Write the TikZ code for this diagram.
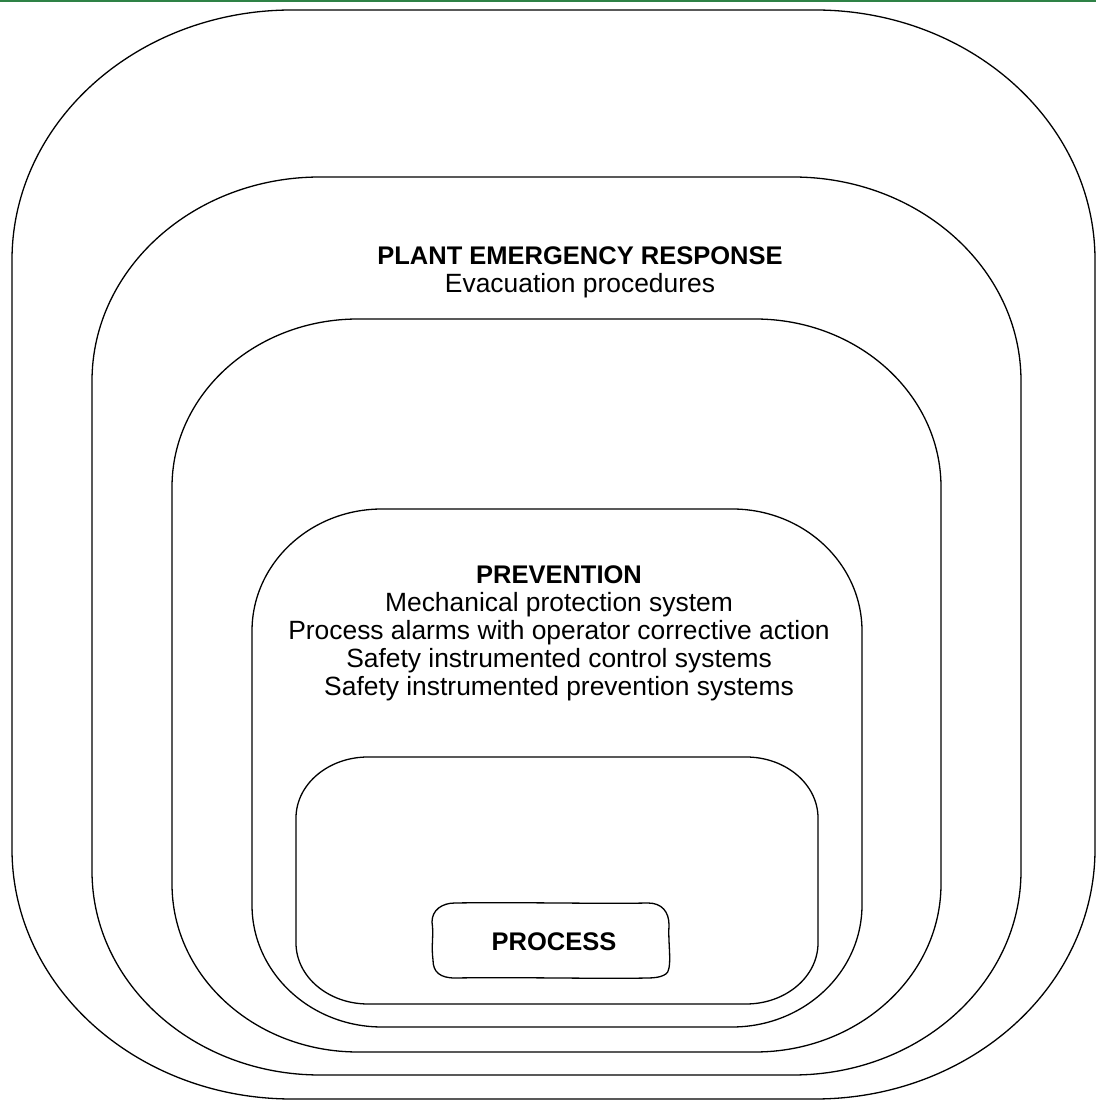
\documentclass[tikz,border=0pt]{standalone}
\usepackage{fontspec}
\setmainfont{Liberation Sans}
\definecolor{topgreen}{RGB}{46,130,70}
\newcommand{\ovalshape}[6]{% L, T(px), R, B(px), rx, ry
  \pgfmathsetmacro{\oT}{1100-#2}\pgfmathsetmacro{\oB}{1100-#4}%
  \draw[shell] (#1,\oB+#6) -- (#1,\oT-#6)
    arc[start angle=180,end angle=90,x radius=#5,y radius=#6]
    -- (#3-#5,\oT)
    arc[start angle=90,end angle=0,x radius=#5,y radius=#6]
    -- (#3,\oB+#6)
    arc[start angle=0,end angle=-90,x radius=#5,y radius=#6]
    -- (#1+#5,\oB)
    arc[start angle=270,end angle=180,x radius=#5,y radius=#6] -- cycle;}
\newcommand{\hd}[1]{{\fontsize{25.5}{28}\selectfont\bfseries #1}}
\begin{document}
\begin{tikzpicture}[x=1pt,y=1pt,
  shell/.style={draw=black,line width=1.3pt},
  txt/.style={inner sep=0pt,align=center,font=\fontsize{26.4}{28}\selectfont},
  bold/.style={txt,font=\fontsize{25.5}{28}\selectfont\bfseries}]
\useasboundingbox (0,0) rectangle (1096,1100);
\fill[white] (0,0) rectangle (1096,1100);
\fill[topgreen] (0,1098) rectangle (1096,1100);
% nested layers
\ovalshape{12}{10}{1095}{1099}{280}{250}
\ovalshape{92}{177}{1021}{1075}{228}{204}
\ovalshape{172}{319}{941}{1052}{186}{168}
\ovalshape{252}{509}{862}{1027}{130}{122}
\ovalshape{296}{757}{818}{1004}{72}{61}
% process box (hand-drawn look)
\draw[shell] (455,197) .. controls (520,198) and (600,196) .. (648,197)
  .. controls (662,197) and (669,188) .. (669,175)
  .. controls (668,160) and (671,142) .. (669,132)
  .. controls (669,126) and (662,122) .. (648,122)
  .. controls (600,121) and (520,123) .. (455,122)
  .. controls (440,122) and (433,128) .. (433,140)
  .. controls (431,155) and (434,165) .. (432,178)
  .. controls (432,190) and (442,197) .. (455,197) -- cycle;
% labels
\node[txt] (per) at (580,828) {\hd{PLANT EMERGENCY RESPONSE}\\Evacuation procedures};
\node[txt] (prev) at (559,466.5) {\hd{PREVENTION}\\Mechanical protection system\\Process alarms with operator corrective action\\Safety instrumented control systems\\Safety instrumented prevention systems};
\node[bold] (proc) at (554,158.5) {PROCESS};
\end{tikzpicture}
\end{document}
